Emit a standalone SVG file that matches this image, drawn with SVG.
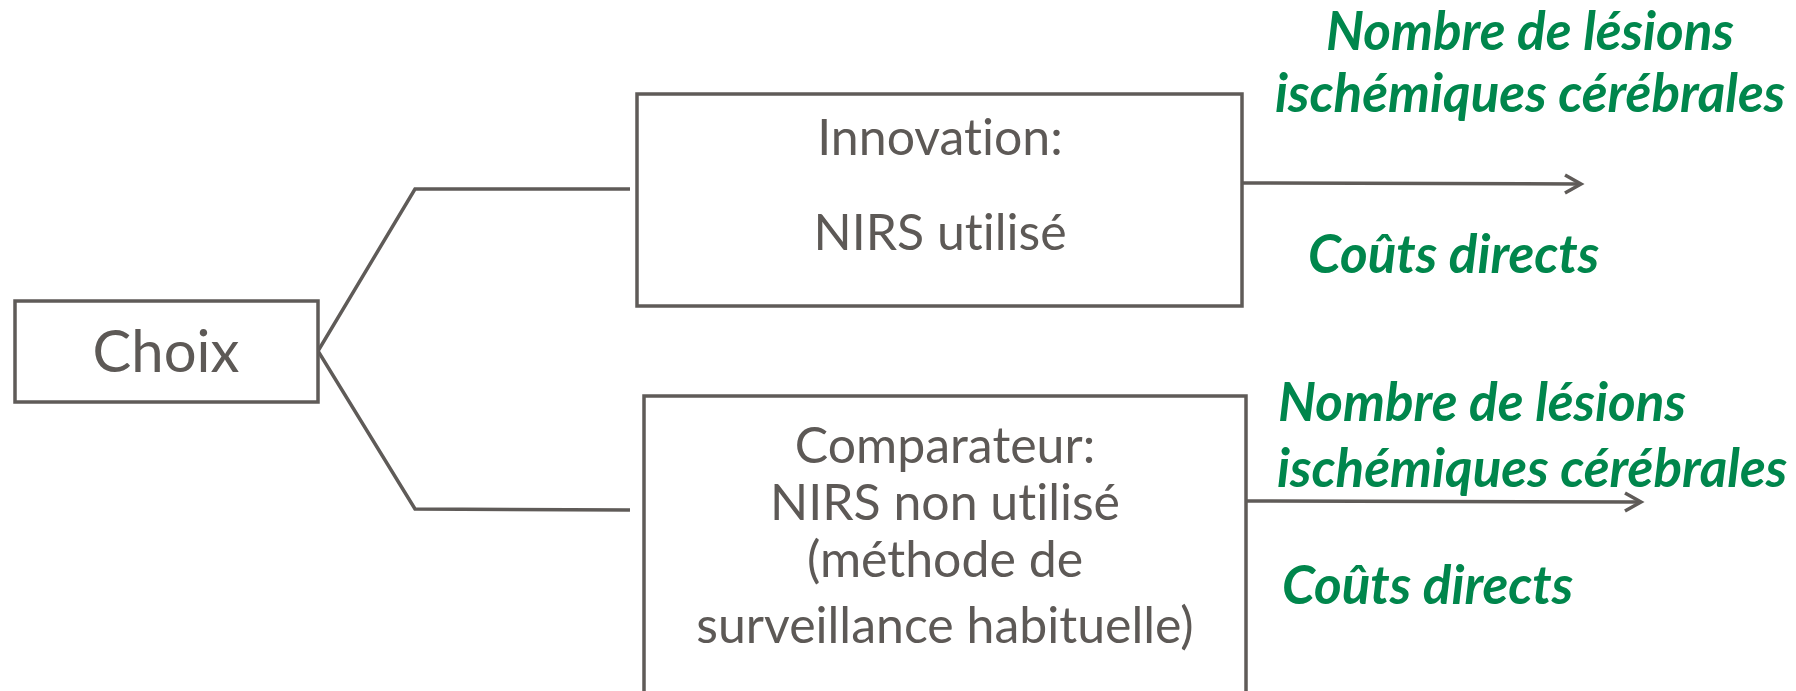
<svg xmlns="http://www.w3.org/2000/svg" width="1796" height="691" viewBox="0 0 1796 691">
  <style>
    .box { fill: #ffffff; stroke: #5f5b58; stroke-width: 3.5; }
    .wire { fill: none; stroke: #5f5b58; stroke-width: 3.5; }
    .lbl { font-family: Lato, "Liberation Sans", sans-serif; fill: #5d5956; text-anchor: middle; font-variant-ligatures: none; }
    .out { font-family: Lato, "Liberation Sans", sans-serif; fill: #00864c; font-weight: bold; font-style: italic; font-size: 53px; font-variant-ligatures: none; }
  </style>
  <defs>
    <marker id="chev" markerWidth="24" markerHeight="24" refX="20" refY="12" orient="auto" markerUnits="userSpaceOnUse">
      <path d="M4,3 L20,12 L4,21" fill="none" stroke="#5f5b58" stroke-width="3.5"/>
    </marker>
  </defs>
  <rect width="1796" height="691" fill="#ffffff"/>

  <g id="connectors">
    <polyline class="wire" points="630,189 415,189 318,351 415,509 630,510"/>
    <line class="wire" x1="1243" y1="183" x2="1581" y2="184" marker-end="url(#chev)"/>
    <line class="wire" x1="1241" y1="501" x2="1641" y2="502" marker-end="url(#chev)"/>
  </g>

  <g id="choix">
    <rect class="box" x="15" y="301" width="303" height="101"/>
    <text class="lbl" x="166" y="372" font-size="58">Choix</text>
  </g>

  <g id="innovation">
    <rect class="box" x="637" y="94" width="605" height="212"/>
    <text class="lbl" x="940" y="155" font-size="50">Innovation:</text>
    <text class="lbl" x="940" y="250" font-size="50">NIRS utilisé</text>
  </g>

  <g id="comparateur">
    <rect class="box" x="644" y="396" width="602" height="310"/>
    <text class="lbl" x="945" y="463" font-size="50">Comparateur:</text>
    <text class="lbl" x="945" y="520" font-size="50">NIRS non utilisé</text>
    <text class="lbl" x="945" y="577" font-size="50">(méthode de</text>
    <text class="lbl" x="945" y="643" font-size="50">surveillance habituelle)</text>
  </g>

  <g id="outcomes-innovation">
    <text class="out" x="1326" y="50">Nombre de lésions</text>
    <text class="out" x="1275" y="112">ischémiques cérébrales</text>
    <text class="out" x="1308" y="273">Coûts directs</text>
  </g>

  <g id="outcomes-comparateur">
    <text class="out" x="1278" y="421">Nombre de lésions</text>
    <text class="out" x="1277" y="487">ischémiques cérébrales</text>
    <text class="out" x="1282" y="604">Coûts directs</text>
  </g>
</svg>
